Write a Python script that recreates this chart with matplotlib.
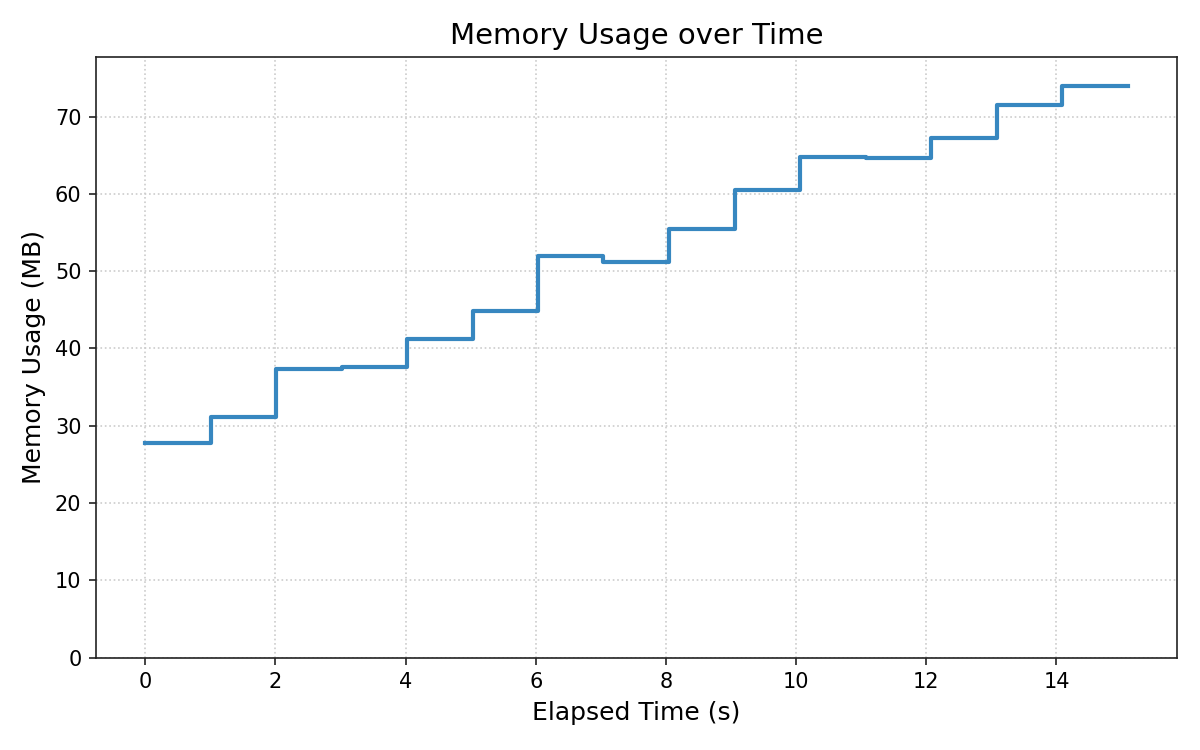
import matplotlib
matplotlib.use("Agg")
import matplotlib.pyplot as plt

elapsed_s = [0.0, 1.01, 2.01, 3.02, 4.02, 5.03, 6.04, 7.04, 8.05, 9.06,
             10.06, 11.07, 12.08, 13.08, 14.09, 15.10]
memory_mb = [27.8, 31.2, 37.4, 37.6, 41.2, 44.9, 51.9, 51.2, 55.4, 60.5,
             64.8, 64.6, 67.2, 71.5, 74.0, 74.0]

fig, ax = plt.subplots(figsize=(8, 5), dpi=150)
fig.subplots_adjust(left=0.08, right=0.981, top=0.924, bottom=0.123)
ax.step(elapsed_s, memory_mb, where='post', color='#3787c0', linewidth=2)
ax.set_title("Memory Usage over Time", fontsize=14)
ax.set_xlabel("Elapsed Time (s)", fontsize=12)
ax.set_ylabel("Memory Usage (MB)", fontsize=12)
ax.set_ylim(0, max(memory_mb) * 1.05)
ax.tick_params(labelsize=10, color='#222222')
for s in ax.spines.values():
    s.set_color('#222222')
ax.grid(True, linestyle=':', color='#cccccc', linewidth=0.8)
fig.savefig("out.png")
